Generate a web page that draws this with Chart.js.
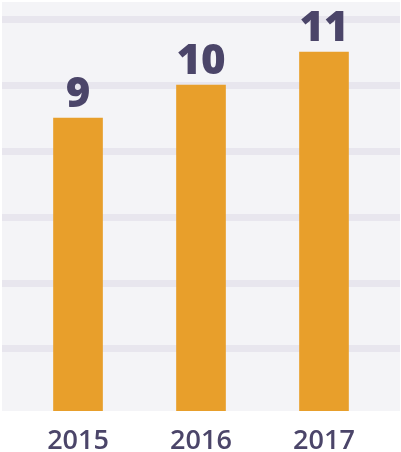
<!DOCTYPE html>
<html>
<head>
<meta charset="utf-8">
<script src="https://cdn.jsdelivr.net/npm/chart.js@4/dist/chart.umd.min.js"></script>
<style>
  html, body { margin: 0; padding: 0; background: #ffffff; }
  #wrap { width: 401px; height: 452px; }
</style>
</head>
<body>
<div id="wrap"><canvas id="barChart"></canvas></div>
<script>
// Chart data
const years = [2015, 2016, 2017];
const counts = [9, 10, 11];
const gridValues = [2, 4, 6, 8, 10, 12];

const labelColor = "#4b4569";
const barColor = "#e89f2b";

// Plot background
const plotBackground = {
  id: "plotBackground",
  beforeDraw(chart) {
    const { ctx, chartArea } = chart;
    ctx.save();
    ctx.fillStyle = "#f4f4f7";
    ctx.fillRect(chartArea.left, chartArea.top, chartArea.width, chartArea.height);
    ctx.restore();
  },
};

// Value labels above bars
const valueLabels = {
  id: "valueLabels",
  afterDatasetsDraw(chart) {
    const { ctx } = chart;
    const meta = chart.getDatasetMeta(0);
    ctx.save();
    ctx.fillStyle = labelColor;
    ctx.font = "800 42px 'Open Sans', sans-serif";
    ctx.textAlign = "center";
    ctx.textBaseline = "alphabetic";
    meta.data.forEach((bar, i) => {
      ctx.fillText(String(counts[i]), bar.x, bar.y - 11);
    });
    ctx.restore();
  },
};

const ctx = document.getElementById("barChart").getContext("2d");
const barChart = new Chart(ctx, {
  type: "bar",
  data: {
    datasets: [
      {
        data: years.map((yr, i) => ({ x: yr, y: counts[i] })),
        backgroundColor: barColor,
        borderWidth: 0,
        barThickness: 49,
        clip: 0,
      },
    ],
  },
  options: {
    responsive: true,
    maintainAspectRatio: false,
    animation: false,
    layout: { padding: { left: 2, top: 2, right: 1, bottom: 0 } },
    plugins: {
      legend: { display: false },
      tooltip: { enabled: false },
    },
    scales: {
      x: {
        type: "linear",
        offset: false,
        min: 2014.382,
        max: 2017.618,
        grid: { display: false, offset: false },
        border: { display: false },
        afterBuildTicks: (scale) => {
          scale.ticks = years.map((v) => ({ value: v }));
        },
        afterFit: (scale) => {
          scale.height = 41;
        },
        ticks: {
          padding: 6,
          autoSkip: false,
          maxRotation: 0,
          color: labelColor,
          font: { family: "'Open Sans', sans-serif", size: 27, weight: 600 },
          callback: (v) => String(v),
        },
      },
      y: {
        min: 0.12,
        max: 12.52,
        afterBuildTicks: (scale) => {
          scale.ticks = gridValues.map((v) => ({ value: v }));
        },
        afterFit: (scale) => {
          scale.width = 0;
        },
        grid: {
          color: "#e8e6ee",
          lineWidth: 7,
          drawTicks: false,
        },
        border: { display: false },
        ticks: { display: false },
      },
    },
  },
  plugins: [plotBackground, valueLabels],
});
</script>
</body>
</html>
